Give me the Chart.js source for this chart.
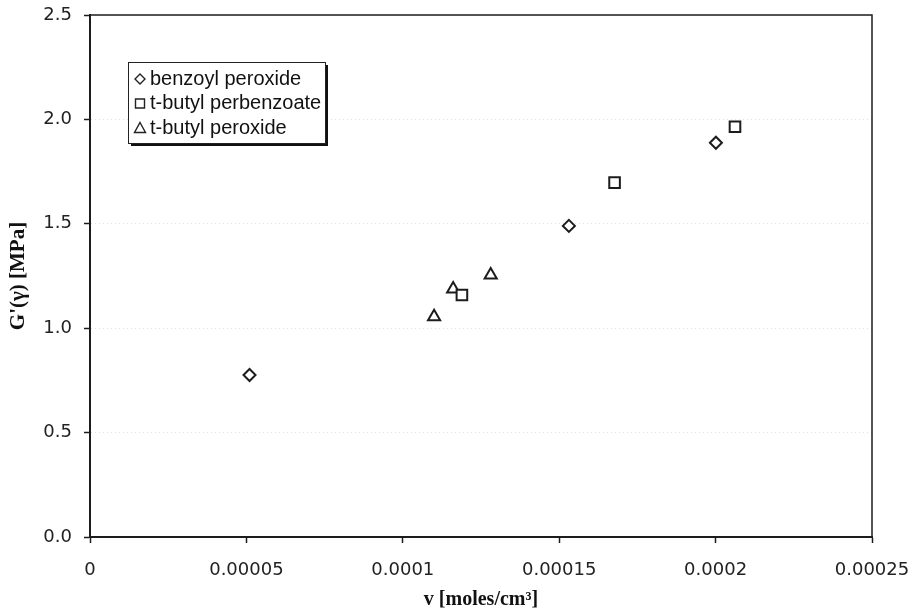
<!DOCTYPE html>
<html>
<head>
<meta charset="utf-8">
<script src="https://cdn.jsdelivr.net/npm/chart.js@4.4.1/dist/chart.umd.min.js"></script>
<style>
  html, body { margin: 0; padding: 0; background: #fff; }
</style>
</head>
<body>
<canvas id="gChart" width="915" height="615"></canvas>
<script>
// series
const seriesNames = ['benzoyl peroxide', 't-butyl perbenzoate', 't-butyl peroxide'];
const benzoylX = [0.000051, 0.0001531, 0.0002001];
const benzoylY = [0.776, 1.49, 1.888];
const perbenzoateX = [0.0001189, 0.0001677, 0.0002062];
const perbenzoateY = [1.159, 1.697, 1.965];
const peroxideX = [0.00011, 0.0001161, 0.0001281];
const peroxideY = [1.055, 1.188, 1.255];

const xTickLabels = ['0', '0.00005', '0.0001', '0.00015', '0.0002', '0.00025'];
const yTickLabels = ['0.0', '0.5', '1.0', '1.5', '2.0', '2.5'];

const ink = '#1c1c1c';
const tickFont = { family: "'DejaVu Sans', Verdana, sans-serif", size: 18 };
const titleFont = { family: "'Liberation Serif', 'Times New Roman', serif", size: 20, weight: 'bold' };

function toPoints(xs, ys) {
  return xs.map((x, i) => ({ x: x, y: ys[i] }));
}

// stop the tick labels from pushing the plot area inwards
function noOverflow(scale) {
  scale.paddingTop = 0;
  scale.paddingBottom = 0;
  scale.paddingLeft = 0;
  scale.paddingRight = 0;
}

// Excel-style frame on top/right plus the boxed legend with drop shadow
const frameAndLegend = {
  id: 'frameAndLegend',
  afterDraw(chart) {
    const ctx = chart.ctx;
    const a = chart.chartArea;
    ctx.save();
    ctx.strokeStyle = ink;
    ctx.lineWidth = 1.5;
    ctx.beginPath();
    ctx.moveTo(a.left, a.top);
    ctx.lineTo(a.right, a.top);
    ctx.lineTo(a.right, a.bottom);
    ctx.stroke();

    const bx = 128, by = 62, bw = 197, bh = 81;
    ctx.fillStyle = '#111';
    ctx.fillRect(bx + 3, by + 3, bw, bh);
    ctx.fillStyle = '#fff';
    ctx.fillRect(bx, by, bw, bh);
    ctx.lineWidth = 1;
    ctx.strokeStyle = '#222';
    ctx.strokeRect(bx + 0.5, by + 0.5, bw, bh);

    ctx.font = "20px 'Liberation Sans', Arial, sans-serif";
    ctx.textBaseline = 'middle';
    ctx.fillStyle = '#111';
    ctx.lineWidth = 1.4;
    chart.data.datasets.forEach((ds, i) => {
      const cy = by + 17 + i * 24.5;
      const cx = bx + 12;
      ctx.beginPath();
      if (ds.pointStyle === 'rectRot') {
        ctx.moveTo(cx - 5, cy); ctx.lineTo(cx, cy - 5);
        ctx.lineTo(cx + 5, cy); ctx.lineTo(cx, cy + 5);
        ctx.closePath();
      } else if (ds.pointStyle === 'rect') {
        ctx.rect(cx - 4.5, cy - 4.5, 9, 9);
      } else {
        ctx.moveTo(cx, cy - 5.5); ctx.lineTo(cx + 5.5, cy + 4.5);
        ctx.lineTo(cx - 5.5, cy + 4.5); ctx.closePath();
      }
      ctx.stroke();
      ctx.fillText(ds.label, bx + 22, cy);
    });
    ctx.restore();
  }
};

const ctx = document.getElementById('gChart').getContext('2d');

const gChart = new Chart(ctx, {
  type: 'scatter',
  data: {
    datasets: [{
      label: seriesNames[0],
      data: toPoints(benzoylX, benzoylY),
      pointStyle: 'rectRot',
      pointRadius: 6,
      borderColor: ink,
      backgroundColor: '#fff',
      borderWidth: 2
    }, {
      label: seriesNames[1],
      data: toPoints(perbenzoateX, perbenzoateY),
      pointStyle: 'rect',
      pointRadius: 7.5,
      borderColor: ink,
      backgroundColor: '#fff',
      borderWidth: 2
    }, {
      label: seriesNames[2],
      data: toPoints(peroxideX, peroxideY),
      pointStyle: 'triangle',
      pointRadius: 7,
      borderColor: ink,
      backgroundColor: '#fff',
      borderWidth: 2
    }]
  },
  options: {
    responsive: false,
    animation: false,
    events: [],
    layout: {
      padding: { top: 15, right: 43, left: 0, bottom: 0 }
    },
    plugins: {
      legend: { display: false },
      tooltip: { enabled: false }
    },
    scales: {
      x: {
        type: 'linear',
        min: 0,
        max: 0.00025,
        afterFit: function(scale) { scale.height = 78; noOverflow(scale); },
        ticks: {
          stepSize: 0.00005,
          color: '#222',
          font: tickFont,
          padding: 17,
          maxRotation: 0,
          callback: function(value, index) { return xTickLabels[index]; }
        },
        grid: {
          drawOnChartArea: false,
          tickLength: 6,
          tickColor: ink,
          tickWidth: 1.5
        },
        border: { color: ink, width: 2 },
        title: {
          display: true,
          text: 'v [moles/cm³]',
          color: '#111',
          font: titleFont,
          padding: { top: 0, bottom: 3 }
        }
      },
      y: {
        min: 0,
        max: 2.5,
        afterFit: function(scale) { scale.width = 90; noOverflow(scale); },
        ticks: {
          stepSize: 0.5,
          color: '#222',
          font: tickFont,
          padding: 12,
          callback: function(value, index) { return yTickLabels[index]; }
        },
        grid: {
          color: '#e2e2e2',
          lineWidth: 1,
          tickLength: 6,
          tickColor: ink,
          tickWidth: 1.5,
          tickBorderDash: []
        },
        border: { color: ink, width: 2, dash: [1, 3] },
        title: {
          display: true,
          text: "G'(γ) [MPa]",
          color: '#111',
          font: { family: titleFont.family, size: 21, weight: 'bold' },
          padding: { top: 6, bottom: 0 }
        }
      }
    }
  },
  plugins: [frameAndLegend]
});
</script>
</body>
</html>
